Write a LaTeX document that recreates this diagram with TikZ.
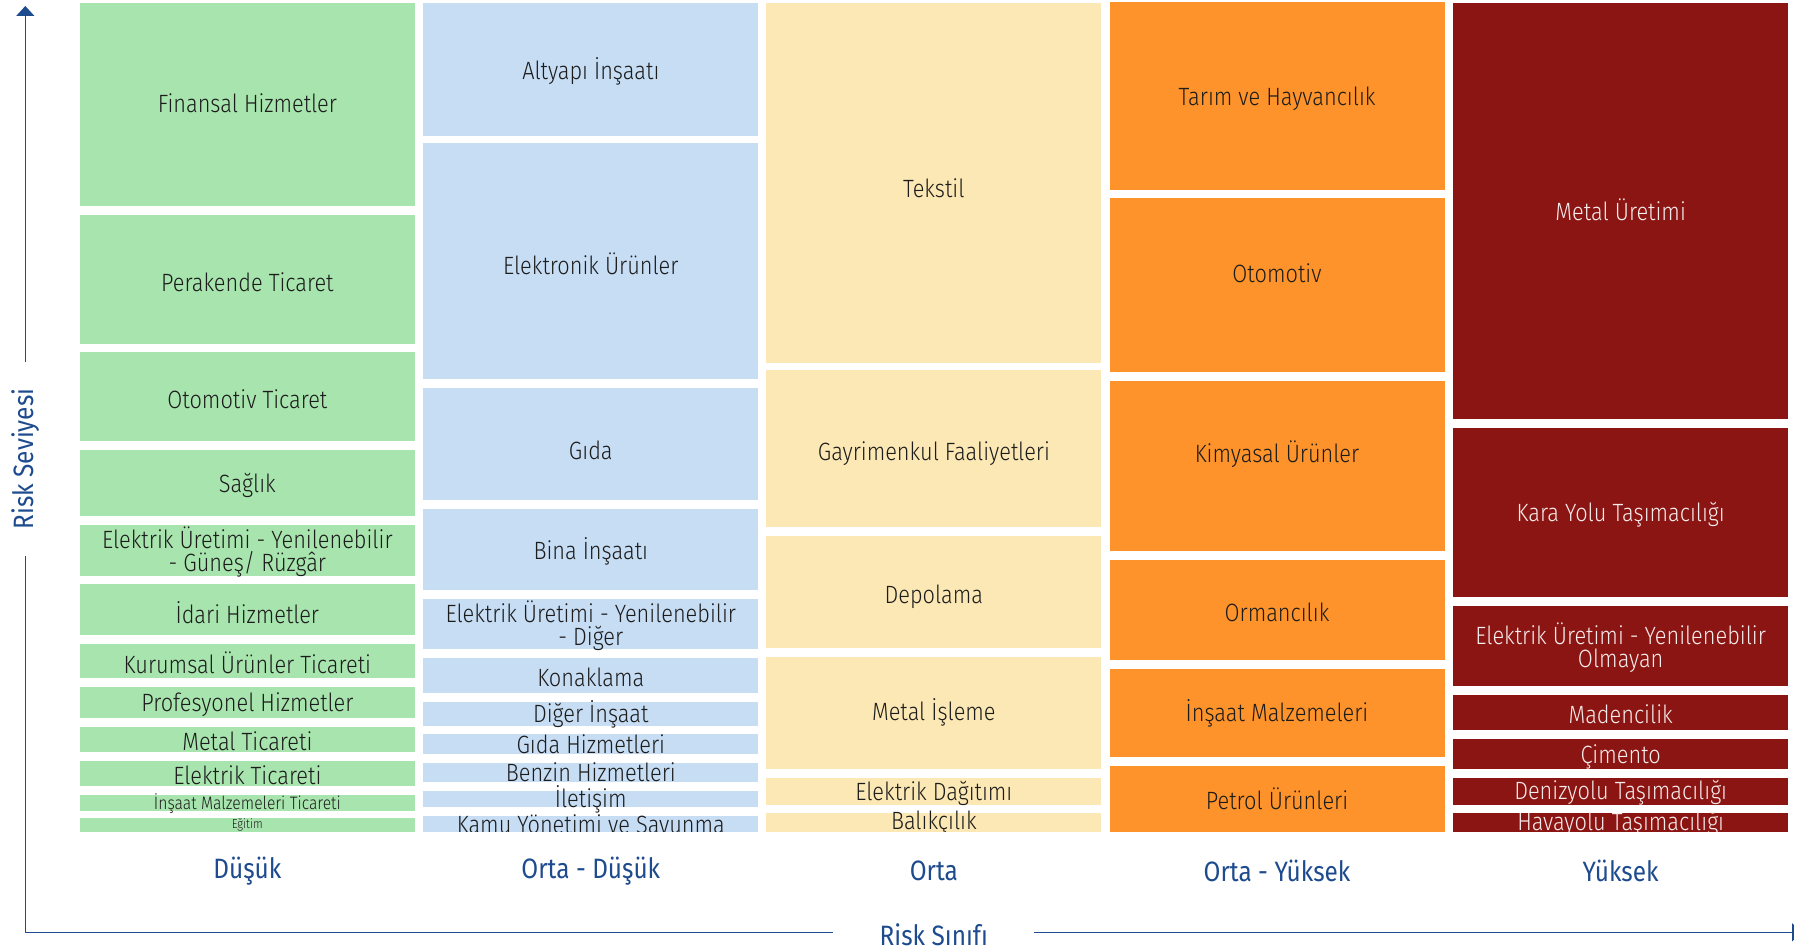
\documentclass[tikz,border=0pt]{standalone}
\usepackage{fontspec}
\setmainfont{Fira Sans}[FakeStretch=0.87, UprightFont=* Light]
\newfontfamily\catfont{Fira Sans}[FakeStretch=0.87]
\usetikzlibrary{arrows.meta}

\definecolor{grn}{HTML}{A8E4AE}
\definecolor{blu}{HTML}{C6DDF4}
\definecolor{ylw}{HTML}{FCE8B4}
\definecolor{org}{HTML}{FD932A}
\definecolor{rdd}{HTML}{8B1513}
\definecolor{axblue}{HTML}{1E4B8E}
\definecolor{ink}{HTML}{1C1C1C}

\begin{document}
\begin{tikzpicture}[
    x=1pt, y=-1pt,
    cell/.style={rectangle, inner sep=0pt, minimum width=335pt},
    lbl/.style={font=\fontsize{25}{23}\selectfont, text=ink, align=center, inner sep=0pt},
    wlbl/.style={lbl, text=white!92!rdd},
    cat/.style={font=\catfont\fontsize{28}{28}\selectfont, text=axblue, inner sep=0pt},
    axis/.style={axblue, line width=1.4pt},
    axarr/.style={-{Triangle[length=10pt,width=18pt]}},
  ]
  \useasboundingbox (0,0) rectangle (1794,949);

  % ---------- cells, clipped at the base line of the columns ----------
  % \dy moves a label down (px) from the cell centre
  \begin{scope}
    \clip (0,0) rectangle (1794,831.7);

    % Düşük
    \foreach \ytop/\ybot/\dy/\nm/\lbl in {
        3/206/-1/fin/Finansal Hizmetler,
        215/343.7/2.5/per/Perakende Ticaret,
        352.3/441.3/2.5/otot/Otomotiv Ticaret,
        450/516/2.5/sag/Sağlık,
        525/576/1/egy/{Elektrik Üretimi - Yenilenebilir\\- Güneş/ Rüzgâr},
        584.3/635/2.5/ida/İdari Hizmetler,
        644/678.3/2/kur/Kurumsal Ürünler Ticareti,
        687/717.7/2/pro/Profesyonel Hizmetler,
        726.7/751.7/2/mtt/Metal Ticareti,
        760.7/785.7/2/elt/Elektrik Ticareti,
        794.7/811/1/imt/{\fontsize{18}{18}\selectfont İnşaat Malzemeleri Ticareti},
        818.3/831.7/0/egi/{\fontsize{13}{13}\selectfont Eğitim}} {
      \node[cell, fill=grn, minimum height=(\ybot-\ytop)*1pt,
            label={[lbl, yshift={-\dy*1pt}]center:\lbl}] (\nm) at (247.35,{(\ytop+\ybot)/2}) {};
    }

    % Orta - Düşük
    \foreach \ytop/\ybot/\dy/\nm/\lbl in {
        3.3/135.7/2/alt/Altyapı İnşaatı,
        143.3/378.7/2.5/elk/Elektronik Ürünler,
        387.7/500/6.5/gid/Gıda,
        509.3/589.7/2/bin/Bina İnşaatı,
        599/649/1.5/egd/{Elektrik Üretimi - Yenilenebilir\\- Diğer},
        658.3/693/2/kon/Konaklama,
        702.3/725.7/0/dig/Diğer İnşaat,
        734.3/753.7/0/gh/Gıda Hizmetleri,
        762.7/781.7/0/ben/Benzin Hizmetleri,
        791/807.3/0/ile/İletişim,
        816/831.7/0/kam/Kamu Yönetimi ve Savunma} {
      \node[cell, fill=blu, minimum height=(\ybot-\ytop)*1pt,
            label={[lbl, yshift={-\dy*1pt}]center:\lbl}] (\nm) at (590.8,{(\ytop+\ybot)/2}) {};
    }

    % Orta
    \foreach \ytop/\ybot/\dy/\nm/\lbl in {
        3.3/362.7/5/tek/Tekstil,
        370.3/526.7/5/gay/Gayrimenkul Faaliyetleri,
        535.7/647.7/5/dep/Depolama,
        656.7/769.3/-0.5/mis/Metal İşleme,
        778.3/804.7/2/eld/Elektrik Dağıtımı,
        813.3/831.7/1/bal/Balıkçılık} {
      \node[cell, fill=ylw, minimum height=(\ybot-\ytop)*1pt,
            label={[lbl, yshift={-\dy*1pt}]center:\lbl}] (\nm) at (933.85,{(\ytop+\ybot)/2}) {};
    }

    % Orta - Yüksek
    \foreach \ytop/\ybot/\dy/\nm/\lbl in {
        2/190/2.5/tar/Tarım ve Hayvancılık,
        198.3/372/-12/oto/Otomotiv,
        381/551/-12/kim/Kimyasal Ürünler,
        560/659.7/2/orm/Ormancılık,
        669/756.7/0.5/ins/İnşaat Malzemeleri,
        766/831.7/0/pet/Petrol Ürünleri} {
      \node[cell, fill=org, minimum height=(\ybot-\ytop)*1pt,
            label={[lbl, yshift={-\dy*1pt}]center:\lbl}] (\nm) at (1277,{(\ytop+\ybot)/2}) {};
    }

    % Yüksek
    \foreach \ytop/\ybot/\dy/\nm/\lbl in {
        3/419.3/-1/meu/Metal Üretimi,
        428.3/597.3/2/kar/Kara Yolu Taşımacılığı,
        606/685.7/2/eno/{Elektrik Üretimi - Yenilenebilir\\Olmayan},
        694.7/729.7/2/mad/Madencilik,
        738.7/769.3/3/cim/Çimento,
        778.3/804.7/1.5/den/Denizyolu Taşımacılığı,
        813.3/831.7/1/hav/Havayolu Taşımacılığı} {
      \node[cell, fill=rdd, minimum height=(\ybot-\ytop)*1pt,
            label={[wlbl, yshift={-\dy*1pt}]center:\lbl}] (\nm) at (1620.65,{(\ytop+\ybot)/2}) {};
    }
  \end{scope}

  % ---------- risk class labels ----------
  \node[cat] (low)  at (247.35,871) {Düşük};
  \node[cat] (mlow) at (590.8,871)  {Orta - Düşük};
  \node[cat] (mid)  at (933.85,871) {Orta};
  \node[cat] (mhi)  at (1277,871)   {Orta - Yüksek};
  \node[cat] (high) at (1620.65,871) {Yüksek};

  % ---------- axes ----------
  \coordinate (orig) at (25.3,932.3);
  \coordinate (ytip) at (25.3,6);
  \coordinate (xtip) at (1802,932.3);
  \node[cat, rotate=90, inner xsep=26pt] (ylab) at (25.3,459) {Risk Seviyesi};
  \node[cat, inner xsep=46pt] (xlab) at (933.8,935) {Risk Sınıfı};
  \draw[axis] (orig) -- (ylab.west);
  \draw[axis, axarr] (ylab.east) -- (ytip);
  \draw[axis] (orig) -- (orig -| xlab.west);
  \draw[axis, axarr] (orig -| xlab.east) -- (xtip);

\end{tikzpicture}
\end{document}
